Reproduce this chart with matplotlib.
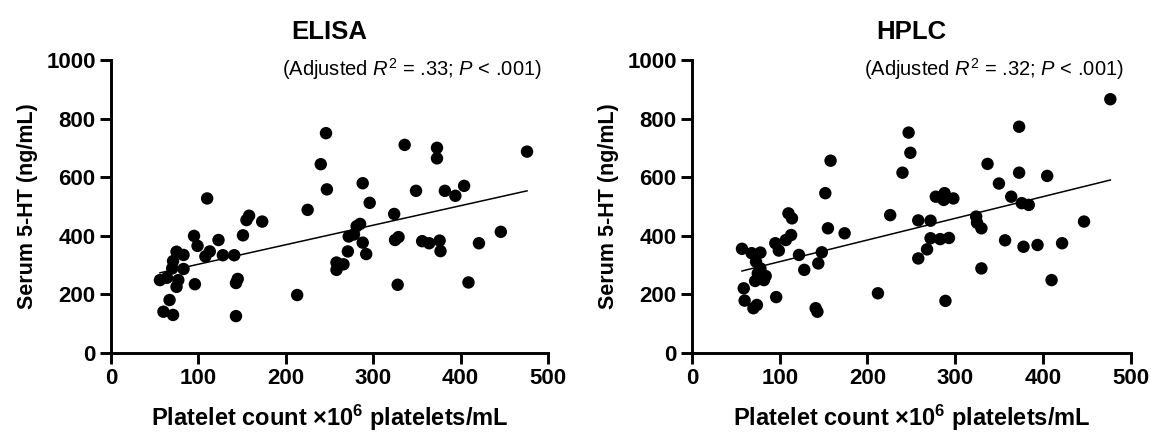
import numpy as np
import matplotlib
matplotlib.use("Agg")
import matplotlib.pyplot as plt

plt.rcParams["font.family"] = ["Liberation Sans", "DejaVu Sans"]
plt.rcParams["mathtext.fontset"] = "custom"
plt.rcParams["mathtext.rm"] = "Liberation Sans"
plt.rcParams["mathtext.it"] = "Liberation Sans:italic"
plt.rcParams["mathtext.bf"] = "Liberation Sans:bold"

# ELISA: platelet count vs serum 5-HT
elisa_x = [56, 60, 64, 67, 70, 71, 71, 75, 75, 77, 83, 83, 95, 96, 99, 108,
           110, 113, 123, 128, 141, 143, 143, 145, 151, 155, 158, 173, 213,
           225, 240, 246, 247, 258, 266, 258, 271, 272, 278, 281, 285, 288,
           288, 292, 296, 324, 325, 329, 328, 336, 349, 356, 364, 376, 377,
           373, 373, 382, 394, 404, 409, 421, 446, 476]
elisa_y = [248, 140, 256, 180, 288, 129, 313, 225, 345, 248, 334, 286, 399,
           234, 365, 329, 527, 346, 385, 333, 333, 125, 238, 252, 401, 453,
           468, 448, 197, 488, 644, 750, 558, 308, 302, 283, 346, 397, 404,
           432, 440, 579, 376, 337, 512, 474, 385, 395, 232, 710, 553, 381,
           374, 383, 347, 700, 664, 553, 536, 570, 240, 374, 413, 687]

# HPLC: platelet count vs serum 5-HT
hplc_x = [57, 60, 59, 68, 70, 74, 72, 73, 75, 78, 78, 82, 84, 95, 96, 99,
          107, 110, 113, 114, 122, 128, 141, 143, 144, 148, 152, 155, 158,
          174, 212, 226, 240, 247, 249, 258, 258, 268, 272, 272, 278, 283,
          288, 287, 298, 293, 289, 324, 325, 330, 330, 337, 350, 357, 364,
          373, 373, 376, 384, 378, 394, 405, 410, 422, 447, 477]
hplc_y = [355, 178, 220, 340, 152, 163, 245, 311, 271, 288, 342, 248, 262,
          374, 190, 349, 385, 476, 402, 459, 334, 283, 152, 140, 305, 343,
          545, 425, 656, 408, 203, 470, 615, 752, 683, 452, 322, 353, 451,
          391, 533, 388, 545, 522, 527, 392, 177, 465, 444, 425, 288, 645,
          578, 384, 533, 772, 615, 511, 505, 362, 368, 604, 248, 374, 448,
          866]

# regression lines (slope, intercept)
elisa_fit = (0.667, 235.5)
hplc_fit = (0.74, 237.0)

panels = [
    ("ELISA", elisa_x, elisa_y, elisa_fit, ".33"),
    ("HPLC", hplc_x, hplc_y, hplc_fit, ".32"),
]

fig = plt.figure(figsize=(11.51, 4.34), dpi=100)
ax_rects = [
    [111 / 1151, 81.3 / 434, 437 / 1151, 292.7 / 434],
    [692 / 1151, 81.3 / 434, 438.5 / 1151, 292.7 / 434],
]

for rect, (title, xs, ys, fit, r2) in zip(ax_rects, panels):
    ax = fig.add_axes(rect)
    ax.scatter(xs, ys, s=80, color="black", edgecolors="none", zorder=3,
               clip_on=False)
    xl = np.array([min(xs), max(xs)])
    ax.plot(xl, fit[0] * xl + fit[1], color="black", lw=1.1, zorder=2)

    ax.set_xlim(0, 500)
    ax.set_ylim(0, 1000)
    ax.set_xticks(range(0, 501, 100))
    ax.set_yticks(range(0, 1001, 200))
    for side in ("top", "right"):
        ax.spines[side].set_visible(False)
    for side in ("left", "bottom"):
        ax.spines[side].set_linewidth(2.1)
    ax.tick_params(width=2.1, length=8, labelsize=16, pad=3)
    for lab in ax.get_xticklabels() + ax.get_yticklabels():
        lab.set_fontweight("bold")

    ax.set_xlabel(r"Platelet count ×10$^{\mathbf{6}}$ platelets/mL",
                  fontsize=17, fontweight="bold", labelpad=10)
    ax.set_ylabel("Serum 5-HT (ng/mL)", fontsize=15.5, fontweight="bold",
                  labelpad=6)
    ax.set_title(title, fontsize=18.5, fontweight="bold", pad=15)
    ax.text(0.985, 0.945,
            r"(Adjusted $\mathit{R}^2$ = " + r2 + r"; $\mathit{P}$ < .001)",
            transform=ax.transAxes, ha="right", va="baseline", fontsize=14.5)

fig.savefig("out.png", dpi=100)
